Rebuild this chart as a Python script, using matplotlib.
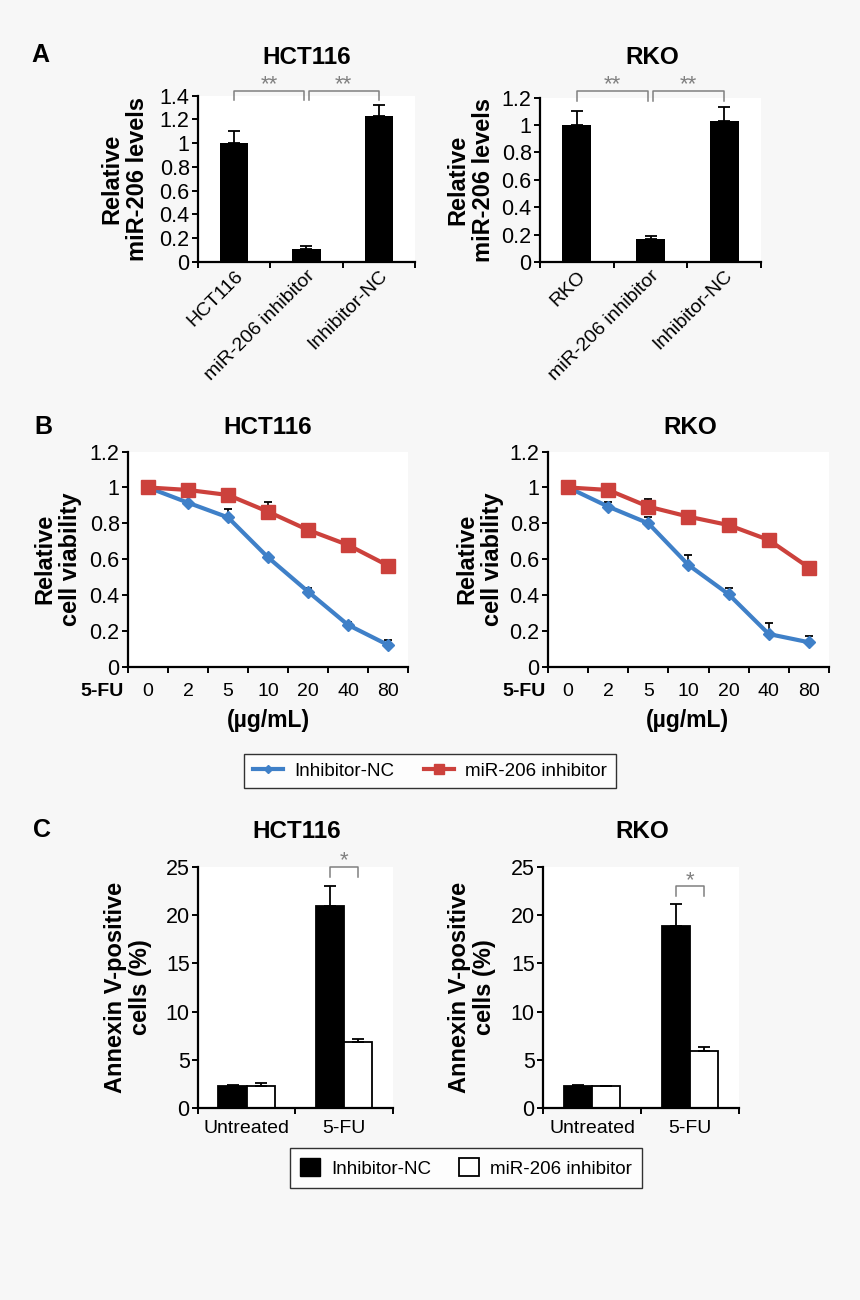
import numpy as np
import matplotlib.pyplot as plt
from matplotlib.patches import Patch
from matplotlib.lines import Line2D

plt.rcParams['font.family'] = ['Liberation Sans', 'DejaVu Sans']

# ---- data ----
# A: relative miR-206 levels
a_hct_groups = ['HCT116', 'miR-206 inhibitor', 'Inhibitor-NC']
a_rko_groups = ['RKO', 'miR-206 inhibitor', 'Inhibitor-NC']
a_hct_vals = [1.0, 0.11, 1.23]
a_hct_err = [0.10, 0.02, 0.09]
a_rko_vals = [1.0, 0.165, 1.03]
a_rko_err = [0.10, 0.025, 0.10]

# B: cell viability vs 5-FU dose
doses = ['0', '2', '5', '10', '20', '40', '80']
b_hct_nc = [1.0, 0.915, 0.833, 0.61, 0.419, 0.233, 0.121]
b_hct_nc_err = [0.0, 0.01, 0.045, 0.01, 0.02, 0.015, 0.03]
b_hct_inh = [1.0, 0.986, 0.958, 0.865, 0.763, 0.679, 0.564]
b_hct_inh_err = [0.0, 0.01, 0.025, 0.055, 0.025, 0.035, 0.02]
b_rko_nc = [1.0, 0.893, 0.80, 0.567, 0.404, 0.182, 0.136]
b_rko_nc_err = [0.0, 0.025, 0.035, 0.055, 0.035, 0.06, 0.035]
b_rko_inh = [1.0, 0.986, 0.893, 0.837, 0.79, 0.707, 0.553]
b_rko_inh_err = [0.0, 0.01, 0.045, 0.01, 0.02, 0.01, 0.03]

# C: annexin V-positive cells
c_groups = ['Untreated', '5-FU']
c_hct_nc = [2.25, 20.9]
c_hct_nc_err = [0.1, 2.1]
c_hct_inh = [2.32, 6.8]
c_hct_inh_err = [0.25, 0.4]
c_rko_nc = [2.25, 18.9]
c_rko_nc_err = [0.15, 2.25]
c_rko_inh = [2.3, 5.9]
c_rko_inh_err = [0.0, 0.4]

BLUE = '#3f80c8'
RED = '#cc413c'
GRAY = '#808080'
YTICK_FS = 15.5
XTICK_FS = 13.5
LAB_FS = 17
TITLE_FS = 17.5

W, H = 860, 1300
fig = plt.figure(figsize=(8.6, 13), dpi=100)
fig.patch.set_facecolor('#f7f7f7')


def px(x, y):
    return x / W, 1 - y / H


def style(ax):
    ax.set_facecolor('white')
    for s in ['top', 'right']:
        ax.spines[s].set_visible(False)
    for s in ['left', 'bottom']:
        ax.spines[s].set_linewidth(1.6)
    ax.tick_params(axis='y', direction='out', length=4, width=1.4, labelsize=YTICK_FS, pad=2)
    ax.tick_params(axis='x', which='major', direction='out', length=4, width=1.4)
    ax.tick_params(axis='x', which='minor', length=0, labelsize=XTICK_FS)


def ylab(ax, text, xfrac):
    ax.set_ylabel(text, fontsize=LAB_FS, fontweight='bold', va='center', linespacing=1.15)
    ax.yaxis.set_label_coords(xfrac, 0.5)


def bracket(ax, x0, x1, top, drop, text, ty, fs=16):
    ax.plot([x0, x0, x1, x1], [drop, top, top, drop], color=GRAY, lw=1.1, clip_on=False)
    ax.text((x0 + x1) / 2, ty, text, ha='center', va='center', color=GRAY, fontsize=fs)


def fmt(v):
    return ('%g' % v)


def panel_a(rect, groups, vals, errs, ymax, step, br, lab_x):
    ax = fig.add_axes(rect)
    style(ax)
    x = np.arange(len(groups))
    ax.bar(x, vals, width=0.39, color='black')
    ax.errorbar(x, vals, yerr=[np.zeros(len(errs)), errs], fmt='none',
                ecolor='black', elinewidth=1.3, capsize=4, capthick=1.3)
    ax.set_xlim(-0.5, len(groups) - 0.5)
    ax.set_ylim(0, ymax)
    yt = np.arange(0, ymax + 1e-9, step)
    ax.set_yticks(yt)
    ax.set_yticklabels([fmt(round(v, 1)) for v in yt])
    ax.set_xticks(np.arange(-0.5, len(groups)))
    ax.set_xticklabels([])
    ax.set_xticks(x, minor=True)
    ax.set_xticklabels(groups, minor=True, rotation=45, ha='right',
                       va='top', rotation_mode='anchor', fontsize=14)
    ax.tick_params(axis='x', which='minor', pad=4)
    ylab(ax, 'Relative\nmiR-206 levels', lab_x)
    top, drop, ty = br
    bracket(ax, 0, 0.97, top, drop, '**', ty)
    bracket(ax, 1.03, 2, top, drop, '**', ty)
    return ax


panel_a([0.2302, 0.7987, 0.2523, 0.1277], a_hct_groups, a_hct_vals, a_hct_err,
        1.4, 0.2, (1.44, 1.36, 1.49), (125 - 198) / 217)
panel_a([0.6279, 0.7985, 0.2570, 0.1264], a_rko_groups, a_rko_vals, a_rko_err,
        1.2, 0.2, (1.249, 1.178, 1.293), (471 - 540) / 221)


def panel_b(rect, nc, nc_err, inh, inh_err, lab_x):
    ax = fig.add_axes(rect)
    style(ax)
    x = np.arange(len(doses))
    ax.errorbar(x, nc, yerr=[np.zeros(len(x)), nc_err], fmt='none', ecolor='black',
                elinewidth=1.2, capsize=3, capthick=1.3, zorder=2)
    ax.errorbar(x, inh, yerr=[np.zeros(len(x)), inh_err], fmt='none', ecolor='black',
                elinewidth=1.2, capsize=3, capthick=1.3, zorder=2)
    ax.plot(x, nc, color=BLUE, lw=3, marker='D', markersize=6.5, zorder=3)
    ax.plot(x, inh, color=RED, lw=3, marker='s', markersize=9.5, zorder=4)
    ax.set_xlim(-0.5, len(doses) - 0.5)
    ax.set_ylim(0, 1.2)
    yt = np.arange(0, 1.21, 0.2)
    ax.set_yticks(yt)
    ax.set_yticklabels([fmt(round(v, 1)) for v in yt])
    ax.set_xticks(np.arange(-0.5, len(doses)))
    ax.set_xticklabels([])
    ax.set_xticks(x, minor=True)
    ax.set_xticklabels(doses, minor=True, fontsize=14)
    ax.tick_params(axis='x', which='minor', pad=12)
    ylab(ax, 'Relative\ncell viability', lab_x)
    return ax


panel_b([0.1488, 0.4872, 0.3256, 0.1654], b_hct_nc, b_hct_nc_err, b_hct_inh, b_hct_inh_err,
        (58 - 128) / 280)
panel_b([0.6372, 0.4872, 0.3267, 0.1654], b_rko_nc, b_rko_nc_err, b_rko_inh, b_rko_inh_err,
        (480 - 548) / 281)

for xp in [102, 524]:
    fig.text(*px(xp, 692), '5-FU', ha='center', va='center', fontsize=14, fontweight='bold')
for xp in [268, 687]:
    fig.text(*px(xp, 721), '(µg/mL)', ha='center', va='center', fontsize=16.5, fontweight='bold')

b_handles = [Line2D([], [], color=BLUE, lw=3, marker='D', markersize=4.5),
             Line2D([], [], color=RED, lw=3, marker='s', markersize=6.5)]
leg = fig.legend(b_handles, ['Inhibitor-NC', 'miR-206 inhibitor'], loc='center',
                 bbox_to_anchor=px(430, 771), ncol=2, fontsize=13.5,
                 frameon=True, fancybox=False, edgecolor='black', handlelength=1.6,
                 handletextpad=0.6, columnspacing=1.6, borderpad=0.45)
leg.get_frame().set_linewidth(1.0)


def panel_c(rect, nc, nc_err, inh, inh_err, br, lab_x):
    ax = fig.add_axes(rect)
    style(ax)
    x = np.arange(len(c_groups)) + 0.5
    w = 0.29
    ax.bar(x - w / 2, nc, width=w, color='black', edgecolor='black', lw=1.3)
    ax.bar(x + w / 2, inh, width=w, color='white', edgecolor='black', lw=1.3)
    ax.errorbar(x - w / 2, nc, yerr=[np.zeros(2), nc_err], fmt='none', ecolor='black',
                elinewidth=1.3, capsize=4, capthick=1.3)
    ax.errorbar(x + w / 2, inh, yerr=[np.zeros(2), inh_err], fmt='none', ecolor='black',
                elinewidth=1.3, capsize=4, capthick=1.3)
    ax.set_xlim(0, 2)
    ax.set_ylim(0, 25)
    ax.set_yticks(np.arange(0, 26, 5))
    ax.set_xticks([0, 1, 2])
    ax.set_xticklabels([])
    ax.set_xticks(x, minor=True)
    ax.set_xticklabels(c_groups, minor=True, fontsize=14)
    ax.tick_params(axis='x', which='minor', pad=9)
    ylab(ax, 'Annexin V-positive\ncells (%)', lab_x)
    top, drop, ty = br
    bracket(ax, 1.5 - w / 2, 1.5 + w / 2, top, drop, '*', ty)
    return ax


panel_c([0.2302, 0.1477, 0.2267, 0.1854], c_hct_nc, c_hct_nc_err, c_hct_inh, c_hct_inh_err,
        (25.0, 24.0, 25.6), (128 - 198) / 195)
panel_c([0.6314, 0.1477, 0.2279, 0.1854], c_rko_nc, c_rko_nc_err, c_rko_inh, c_rko_inh_err,
        (23.0, 22.0, 23.6), (472 - 543) / 196)

c_handles = [Patch(facecolor='black', edgecolor='black'),
             Patch(facecolor='white', edgecolor='black', lw=1.3)]
leg2 = fig.legend(c_handles, ['Inhibitor-NC', 'miR-206 inhibitor'], loc='center',
                  bbox_to_anchor=px(466, 1168), ncol=2, fontsize=13.5,
                  frameon=True, fancybox=False, edgecolor='black', handlelength=1.05,
                  handleheight=1.05, handletextpad=0.6, columnspacing=1.5, borderpad=0.55)
leg2.get_frame().set_linewidth(1.0)

# panel titles
for t, xp, yp in [('HCT116', 307, 57), ('RKO', 652, 57),
                  ('HCT116', 268, 428), ('RKO', 690, 428),
                  ('HCT116', 297, 832), ('RKO', 642, 832)]:
    fig.text(*px(xp, yp), t, ha='center', va='center', fontsize=TITLE_FS, fontweight='bold')

for lab, xp, yp in [('A', 40, 55), ('B', 43, 427), ('C', 42, 830)]:
    fig.text(*px(xp, yp), lab, ha='center', va='center', fontsize=18, fontweight='bold')

fig.savefig('out.png', dpi=100, facecolor=fig.get_facecolor())
